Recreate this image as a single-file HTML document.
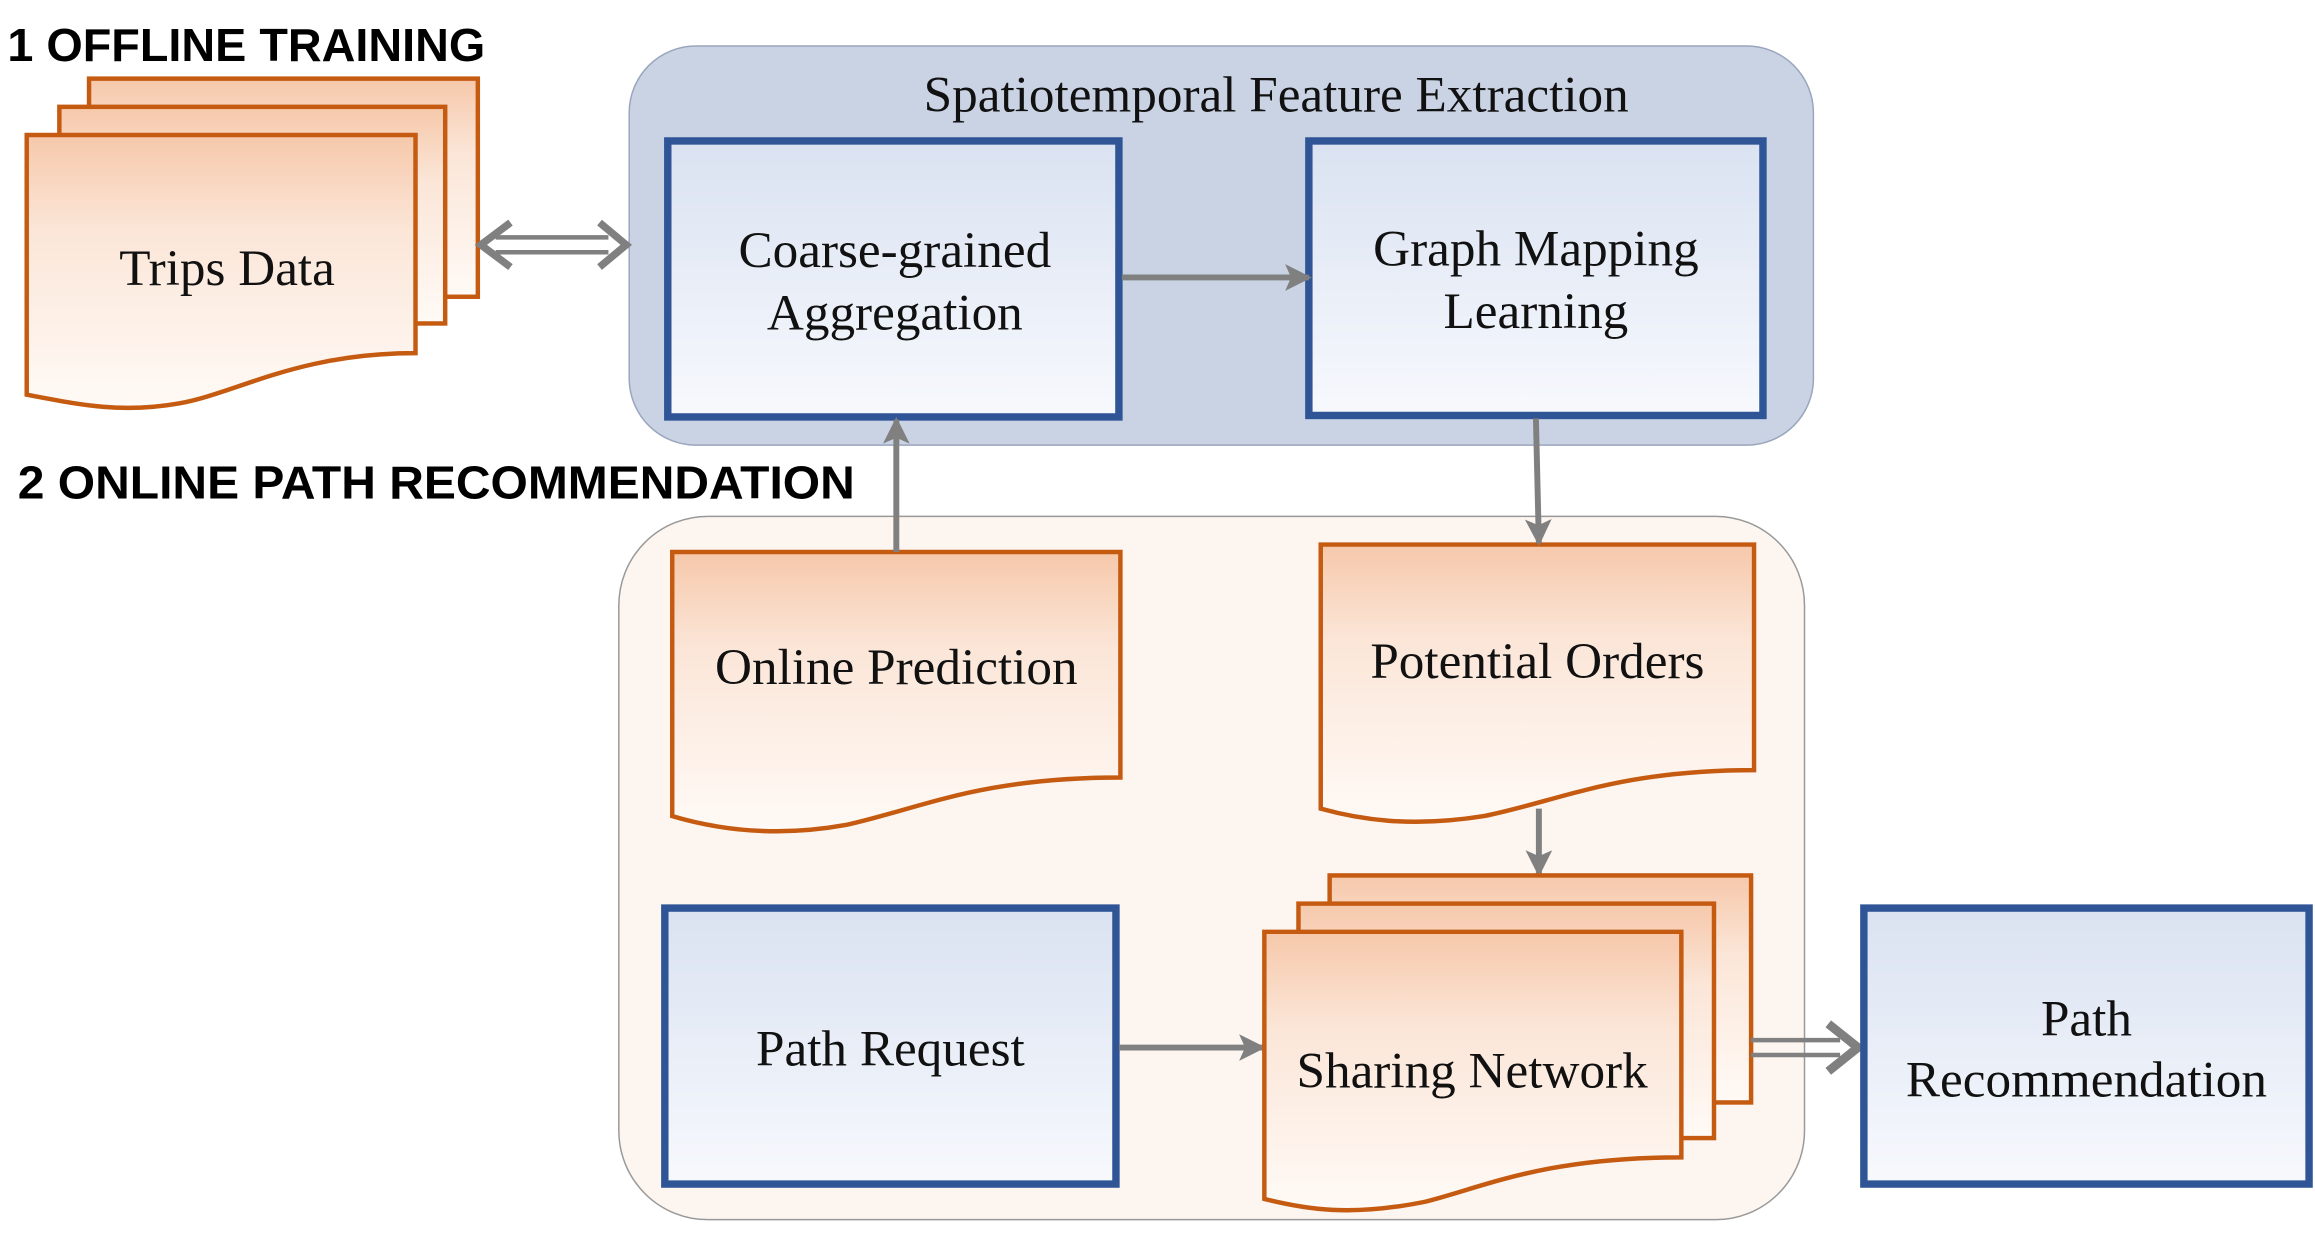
<!DOCTYPE html>
<html><head><meta charset="utf-8"><style>
html,body{margin:0;padding:0;background:#fff;}
svg{display:block;}
.s{font-family:"Liberation Serif",serif;font-size:34.5px;fill:#111;text-anchor:middle;}
.b{font-family:"Liberation Sans",sans-serif;font-weight:bold;font-size:31px;fill:#000;}
.doc{stroke:#c55a11;stroke-width:3;fill:url(#og);}
.box{stroke:#2f5597;stroke-width:5;fill:url(#bg);}
.ar{stroke:#808080;stroke-width:4;fill:none;}
</style></head><body>
<svg width="2315" height="1236" viewBox="0 0 1560 833" preserveAspectRatio="none" xmlns="http://www.w3.org/2000/svg">
<defs>
<linearGradient id="og" x1="0" y1="0" x2="0" y2="1"><stop offset="0" stop-color="#f6c8aa"/><stop offset="0.35" stop-color="#fbe6d8"/><stop offset="1" stop-color="#fffaf6"/></linearGradient>
<linearGradient id="bg" x1="0" y1="0" x2="0" y2="1"><stop offset="0" stop-color="#dae2f1"/><stop offset="1" stop-color="#f7f9fd"/></linearGradient>
<marker id="ah" markerWidth="18" markerHeight="18" refX="16" refY="9" orient="auto" markerUnits="userSpaceOnUse" viewBox="0 0 18 18"><path d="M0,0 L18,9 L0,18 L4,9 Z" fill="#808080"/></marker>
</defs>
<text class="b" x="5" y="41" textLength="322" lengthAdjust="spacingAndGlyphs">1 OFFLINE TRAINING</text>
<text class="b" x="12" y="336" textLength="564" lengthAdjust="spacingAndGlyphs">2 ONLINE PATH RECOMMENDATION</text>
<rect x="424" y="31" width="798" height="269" rx="45" fill="#c9d3e4" stroke="#9aa6bd" stroke-width="1"/>
<rect x="417" y="348" width="799" height="474" rx="60" fill="#fdf5ef" stroke="#999" stroke-width="1"/>
<text class="s" x="860" y="75">Spatiotemporal Feature Extraction</text>
<rect class="doc" x="60" y="53" width="262" height="147"/>
<rect class="doc" x="40" y="72" width="260" height="146"/>
<path class="doc" d="M18,91 H280 V238 C200,238 160,265 120,272 C80,279 50,272 18,266 Z"/>
<text class="s" x="153" y="192">Trips Data</text>
<path d="M334,160 H410 M334,170 H410" stroke="#808080" stroke-width="3"/>
<path d="M344,150 L324,165 L344,180 M404,150 L422,165 L404,180" stroke="#808080" stroke-width="5" fill="none"/>
<rect class="box" x="450" y="95" width="304" height="186"/>
<text class="s" x="603" y="180">Coarse-grained</text><text class="s" x="603" y="222">Aggregation</text>
<rect class="box" x="882" y="95" width="306" height="185"/>
<text class="s" x="1035" y="179">Graph Mapping</text><text class="s" x="1035" y="221">Learning</text>
<line class="ar" x1="756" y1="187" x2="882" y2="187" marker-end="url(#ah)"/>
<path class="doc" d="M453,372 H755 V524 C660,524 620,545 570,556 C520,565 480,558 453,550 Z"/>
<text class="s" x="604" y="461">Online Prediction</text>
<line class="ar" x1="604" y1="372" x2="604" y2="283" marker-end="url(#ah)"/>
<path class="doc" d="M890,367 H1182 V519 C1090,519 1050,540 1000,550 C950,558 915,552 890,545 Z"/>
<text class="s" x="1036" y="457">Potential Orders</text>
<line class="ar" x1="1035" y1="282" x2="1037" y2="366" marker-end="url(#ah)"/>
<line class="ar" x1="1037" y1="545" x2="1037" y2="589" marker-end="url(#ah)"/>
<rect class="box" x="448" y="612" width="304" height="186"/>
<text class="s" x="600" y="718">Path Request</text>
<line class="ar" x1="754" y1="706" x2="851" y2="706" marker-end="url(#ah)"/>
<rect class="doc" x="896" y="590" width="284" height="153"/>
<rect class="doc" x="875" y="609" width="280" height="158"/>
<path class="doc" d="M852,628 H1133 V780 C1040,780 1000,800 960,810 C910,820 880,815 852,808 Z"/>
<text class="s" x="992" y="733">Sharing Network</text>
<path d="M1180,701 H1240 M1180,711 H1240" stroke="#808080" stroke-width="3"/>
<path d="M1232,690 L1252,706 L1232,722" stroke="#808080" stroke-width="6" fill="none"/>
<rect class="box" x="1256" y="612" width="300" height="186"/>
<text class="s" x="1406" y="698">Path</text><text class="s" x="1406" y="739">Recommendation</text>
</svg>
</body></html>
